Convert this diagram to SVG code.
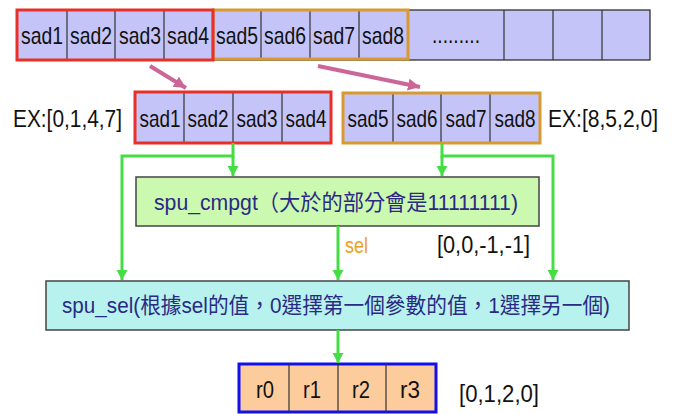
<svg xmlns="http://www.w3.org/2000/svg" width="675" height="414" viewBox="0 0 675 414">
<style>
  .cell { fill: #c4c4f8; stroke: #222; stroke-width: 1.2; }
  .div { stroke: #333; stroke-width: 1.2; }
  .t { font-family: "Liberation Sans", "Noto Sans CJK TC", sans-serif; fill: #111; }
  .sad { font-size: 24px; text-anchor: middle; }
  .lbl { font-size: 23px; }
  .nav { font-family: "Liberation Sans", "Noto Sans CJK TC", sans-serif; fill: #2a2a84; font-size: 22px; }
  .g { fill: none; stroke: #44dd44; stroke-width: 3; }
  .m { fill: none; stroke: #cc6699; stroke-width: 4; }
</style>
<defs>
  <marker id="ga" markerUnits="userSpaceOnUse" markerWidth="12" markerHeight="12" refX="10" refY="5.5" orient="auto">
    <path d="M0,0 L10,5.5 L0,11 z" fill="#44dd44"/>
  </marker>
  <marker id="ma" markerUnits="userSpaceOnUse" markerWidth="14" markerHeight="14" refX="12" refY="6" orient="auto">
    <path d="M0,0 L12,6 L0,12 z" fill="#cc6699"/>
  </marker>
</defs>

<g id="top-row">
  <rect class="cell" x="17" y="10" width="633" height="50"/>
  <g class="div">
    <line x1="67" y1="10" x2="67" y2="60"/>
    <line x1="115" y1="10" x2="115" y2="60"/>
    <line x1="164" y1="10" x2="164" y2="60"/>
    <line x1="261" y1="10" x2="261" y2="60"/>
    <line x1="310" y1="10" x2="310" y2="60"/>
    <line x1="359" y1="10" x2="359" y2="60"/>
    <line x1="504" y1="10" x2="504" y2="60"/>
    <line x1="553" y1="10" x2="553" y2="60"/>
    <line x1="602" y1="10" x2="602" y2="60"/>
  </g>
  <rect x="213" y="10" width="195" height="49" fill="none" stroke="#d89a30" stroke-width="3"/>
  <rect x="17" y="10" width="196" height="50" fill="none" stroke="#e83028" stroke-width="3"/>
  <g class="t sad">
    <text x="42" y="44" textLength="42" lengthAdjust="spacingAndGlyphs">sad1</text>
    <text x="91" y="44" textLength="42" lengthAdjust="spacingAndGlyphs">sad2</text>
    <text x="140" y="44" textLength="42" lengthAdjust="spacingAndGlyphs">sad3</text>
    <text x="188" y="44" textLength="42" lengthAdjust="spacingAndGlyphs">sad4</text>
    <text x="237" y="44" textLength="42" lengthAdjust="spacingAndGlyphs">sad5</text>
    <text x="285" y="44" textLength="42" lengthAdjust="spacingAndGlyphs">sad6</text>
    <text x="334" y="44" textLength="42" lengthAdjust="spacingAndGlyphs">sad7</text>
    <text x="383" y="44" textLength="42" lengthAdjust="spacingAndGlyphs">sad8</text>
    <text x="456" y="43" textLength="48" lengthAdjust="spacingAndGlyphs">.........</text>
  </g>
</g>

<g id="vec-a">
  <rect class="cell" x="135" y="92" width="196" height="51"/>
  <g class="div">
    <line x1="184" y1="92" x2="184" y2="143"/>
    <line x1="233" y1="92" x2="233" y2="143"/>
    <line x1="282" y1="92" x2="282" y2="143"/>
  </g>
  <rect x="135" y="92" width="196" height="51" fill="none" stroke="#e83028" stroke-width="3"/>
  <g class="t sad">
    <text x="160" y="127" textLength="41" lengthAdjust="spacingAndGlyphs">sad1</text>
    <text x="208" y="127" textLength="41" lengthAdjust="spacingAndGlyphs">sad2</text>
    <text x="257" y="127" textLength="41" lengthAdjust="spacingAndGlyphs">sad3</text>
    <text x="306" y="127" textLength="41" lengthAdjust="spacingAndGlyphs">sad4</text>
  </g>
  <text class="t lbl" x="13" y="127" textLength="109" lengthAdjust="spacingAndGlyphs">EX:[0,1,4,7]</text>
</g>

<g id="vec-b">
  <rect class="cell" x="343" y="93" width="197" height="50"/>
  <g class="div">
    <line x1="393" y1="93" x2="393" y2="143"/>
    <line x1="441" y1="93" x2="441" y2="143"/>
    <line x1="490" y1="93" x2="490" y2="143"/>
  </g>
  <rect x="343" y="93" width="197" height="50" fill="none" stroke="#d89a30" stroke-width="3"/>
  <g class="t sad">
    <text x="368" y="127" textLength="41" lengthAdjust="spacingAndGlyphs">sad5</text>
    <text x="417" y="127" textLength="41" lengthAdjust="spacingAndGlyphs">sad6</text>
    <text x="466" y="127" textLength="41" lengthAdjust="spacingAndGlyphs">sad7</text>
    <text x="515" y="127" textLength="41" lengthAdjust="spacingAndGlyphs">sad8</text>
  </g>
  <text class="t lbl" x="548" y="127" textLength="110" lengthAdjust="spacingAndGlyphs">EX:[8,5,2,0]</text>
</g>

<g id="cmpgt">
  <rect x="136" y="177" width="403" height="49" fill="#ccf9b0" stroke="#444" stroke-width="1.5"/>
  <text class="nav" x="154" y="210" textLength="364" lengthAdjust="spacingAndGlyphs">spu_cmpgt（大於的部分會是11111111)</text>
</g>

<g id="sel-label">
  <text x="345" y="253" font-family="Liberation Sans, sans-serif" font-size="22" fill="#f0a020" textLength="23" lengthAdjust="spacingAndGlyphs">sel</text>
  <text class="t lbl" x="437" y="253" textLength="93" lengthAdjust="spacingAndGlyphs">[0,0,-1,-1]</text>
</g>

<g id="spu-sel">
  <rect x="46" y="281" width="583" height="49" fill="#b8f2ee" stroke="#444" stroke-width="1.5"/>
  <text class="nav" x="62" y="313" textLength="548" lengthAdjust="spacingAndGlyphs">spu_sel(根據sel的值，0選擇第一個參數的值，1選擇另一個)</text>
</g>

<g id="result">
  <rect x="239" y="364" width="197" height="48" fill="#fccc9c" stroke="#1010ee" stroke-width="3"/>
  <g class="div">
    <line x1="289" y1="364" x2="289" y2="412"/>
    <line x1="338" y1="364" x2="338" y2="412"/>
    <line x1="386" y1="364" x2="386" y2="412"/>
  </g>
  <g class="t sad" style="font-size:23px">
    <text x="265" y="398" textLength="18" lengthAdjust="spacingAndGlyphs">r0</text>
    <text x="312" y="398" textLength="18" lengthAdjust="spacingAndGlyphs">r1</text>
    <text x="361" y="398" textLength="18" lengthAdjust="spacingAndGlyphs">r2</text>
    <text x="410" y="398" textLength="20" lengthAdjust="spacingAndGlyphs">r3</text>
  </g>
  <text class="t lbl" x="459" y="402" textLength="80" lengthAdjust="spacingAndGlyphs">[0,1,2,0]</text>
</g>

<g id="connectors">
  <path class="m" d="M150,66 L186,88" marker-end="url(#ma)"/>
  <path class="m" d="M318,66 L420,87" marker-end="url(#ma)"/>
  <path class="g" d="M233,143 V156 H122 V280" marker-end="url(#ga)"/>
  <path class="g" d="M233,156 V176" marker-end="url(#ga)"/>
  <path class="g" d="M442,143 V156 H553 V280" marker-end="url(#ga)"/>
  <path class="g" d="M442,156 V176" marker-end="url(#ga)"/>
  <path class="g" d="M338,226 V280" marker-end="url(#ga)"/>
  <path class="g" d="M338,330 V363" marker-end="url(#ga)"/>
</g>
</svg>
